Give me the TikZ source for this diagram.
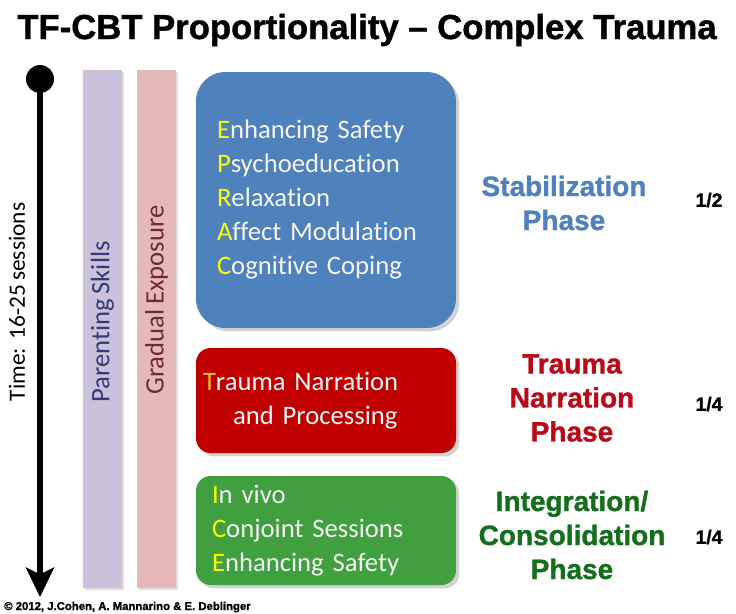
\documentclass[tikz,border=0pt]{standalone}
\usepackage{fontspec}
\setmainfont{Carlito}[Ligatures=NoCommon,WordSpace=0.8]
\newfontfamily\headfont{Liberation Sans}
\newfontfamily\heavyfont{Liberation Sans Bold}[FakeBold=1.2]
\usetikzlibrary{arrows.meta,shadows}
\definecolor{stabblue}{RGB}{79,129,189}
\definecolor{narrred}{RGB}{192,0,0}
\definecolor{phasered}{RGB}{185,10,25}
\definecolor{integgreen}{RGB}{64,160,64}
\definecolor{phasegreen}{RGB}{20,110,30}
\definecolor{lavbar}{RGB}{204,193,218}
\definecolor{pinkbar}{RGB}{230,185,184}
\definecolor{parcol}{RGB}{50,60,120}
\definecolor{gradcol}{RGB}{110,45,45}
\definecolor{boxtext}{RGB}{245,245,245}
\definecolor{inicol}{RGB}{255,255,0}
\definecolor{tinicol}{RGB}{245,185,60}
\newcommand{\ini}[1]{\textcolor{inicol}{#1}}
\def\px{0.75pt}

\begin{document}
\begin{tikzpicture}[x=0.75pt,y=-0.75pt,
 bar/.style={minimum width=39*\px,minimum height=518*\px,inner sep=0,
  drop shadow={shadow xshift=1.5pt,shadow yshift=-1.5pt,opacity=.25}},
 bartext/.style={rotate=90,font=\fontsize{20}{24}\selectfont},
 phasebox/.style={text width=195pt-2*#1,inner xsep=#1,align=left,text=boxtext,
  font=\fontsize{20}{25.5}\selectfont,
  drop shadow={shadow xshift=2.5pt,shadow yshift=-2.5pt,opacity=.35}},
 phaselabel/.style={font=\heavyfont\fontsize{21}{25.5}\selectfont,align=center},
 fraction/.style={font=\heavyfont\fontsize{14.5}{16}\selectfont}]
 \useasboundingbox (0,0) rectangle (736,614);
 \node[anchor=base,font=\heavyfont\fontsize{26}{30}\selectfont] (title) at (367,39) {TF-CBT Proportionality – Complex Trauma};
 % time line
 \node[circle,fill=black,minimum size=28*\px,inner sep=0] (start) at (40,79) {};
 \coordinate (end) at (40,597);
 \draw[line width=5.5*\px,-{Stealth[width=21pt,length=22pt,inset=5pt]}] (start.center) -- (end);
 \node[rotate=90,font=\fontsize{17.5}{20}\selectfont] (time) at (17,302) {Time:~~16-25 sessions};
 % side bars
 \node[bar,fill=lavbar] (parbar) at (102.5,329) {};
 \node[bartext,text=parcol] (partext) at (102.5,322) {Parenting Skills};
 \node[bar,fill=pinkbar] (gradbar) at (156.5,329) {};
 \node[bartext,text=gradcol] (gradtext) at (156.5,300) {Gradual Exposure};
 % phase boxes
 \node[phasebox=15.75pt,fill=stabblue,rounded corners=22pt,minimum height=192pt] (stabbox) at (326,200)
  {\ini{E}nhancing Safety\\\ini{P}sychoeducation\\\ini{R}elaxation\\\ini{A}ffect Modulation\\\ini{C}ognitive Coping};
 \node[phasebox=5.25pt,fill=narrred,rounded corners=11pt,minimum height=78.75pt] (narrbox) at (326,400.5)
  {\textcolor{tinicol}{T}rauma Narration\\\hspace*{22.5pt}and Processing};
 \node[phasebox=12pt,fill=integgreen,rounded corners=11pt,minimum height=81.75pt] (integbox) at (326,530.5)
  {\ini{I}n vivo\\\ini{C}onjoint Sessions\\\ini{E}nhancing Safety};
 % phase names and shares
 \node[phaselabel,text=stabblue] (stablabel) at (564,203) {Stabilization\\Phase};
 \node[phaselabel,text=phasered] (narrlabel) at (572,398) {Trauma\\Narration\\Phase};
 \node[phaselabel,text=phasegreen] (integlabel) at (572,535) {Integration/\\Consolidation\\Phase};
 \node[fraction] (stabfrac) at (709,200) {1/2};
 \node[fraction] (narrfrac) at (709,404) {1/4};
 \node[fraction] (integfrac) at (709,537) {1/4};
 \node[anchor=base west,inner sep=0,font=\heavyfont\fontsize{8.5}{10}\selectfont] (credit) at (4,610) {© 2012, J.Cohen, A. Mannarino \& E. Deblinger};
\end{tikzpicture}
\end{document}
